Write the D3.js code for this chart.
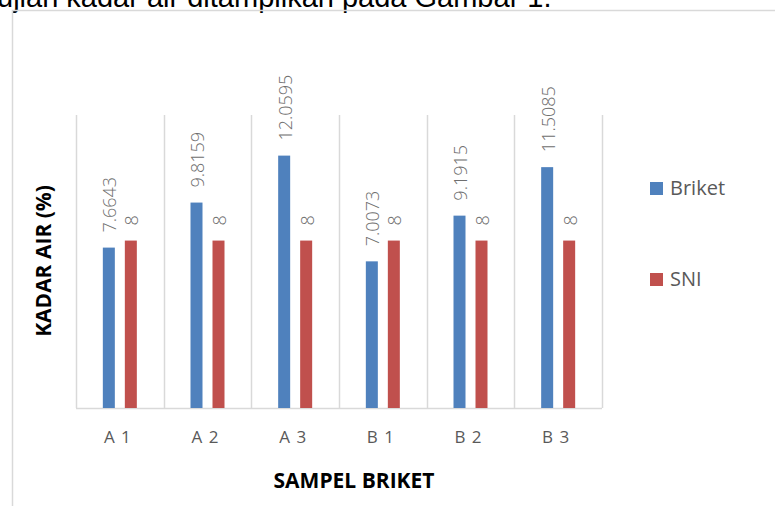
<!DOCTYPE html>
<html>
<head>
<meta charset="utf-8">
<script src="https://cdn.jsdelivr.net/npm/d3@7"></script>
<style>
  body { margin: 0; background: #fff; }
  svg { display: block; }
</style>
</head>
<body>
<div id="chart"></div>
<script>
const width = 775
const height = 506

// data
const categories = ['A 1', 'A 2', 'A 3', 'B 1', 'B 2', 'B 3']
const seriesNames = ['Briket', 'SNI']
const briket = [7.6643, 9.8159, 12.0595, 7.0073, 9.1915, 11.5085]
const sni = [8, 8, 8, 8, 8, 8]
const briketLabels = ['7.6643', '9.8159', '12.0595', '7.0073', '9.1915', '11.5085']
const sniLabels = ['8', '8', '8', '8', '8', '8']
const yDomain = [0, 14]

const colors = { Briket: '#4f81bd', SNI: '#c0504d' }
const plot = { left: 76, right: 602, top: 115, bottom: 408 }

let svg = d3.select('#chart').append('svg').attr('width', width).attr('height', height)

// document text cut off at the top
svg.append('text')
    .attr('x', -3).attr('y', 7)
    .attr('font-family', 'Liberation Sans, Arial, sans-serif')
    .attr('font-size', 29)
    .attr('fill', '#000')
    .text('ujian kadar air ditampilkan pada Gambar 1.')

// chart border
svg.append('rect')
    .attr('x', 12.5).attr('y', 10.5)
    .attr('width', 800).attr('height', 600)
    .attr('fill', 'none').attr('stroke', '#d9d9d9').attr('stroke-width', 1.5)

let x = d3.scaleBand().domain(categories).range([plot.left, plot.right]).padding(0)
let x1 = d3.scaleBand().domain(seriesNames).range([0, 34]).paddingInner(0.4545)
let y = d3.scaleLinear().domain(yDomain).range([plot.bottom, plot.top])
const groupOffset = (x.bandwidth() - 34) / 2

let gridGroup = svg.append('g').attr('id', 'gridGroup')
let bounds = categories.map(c => x(c)).concat([x.range()[1]])
gridGroup.selectAll('line').data(bounds).enter().append('line')
    .attr('x1', d => Math.round(d) + 0.5).attr('x2', d => Math.round(d) + 0.5)
    .attr('y1', plot.top).attr('y2', plot.bottom)
    .attr('stroke', '#d9d9d9').attr('stroke-width', 1.5)
gridGroup.append('line')
    .attr('x1', plot.left).attr('x2', plot.right)
    .attr('y1', plot.bottom + 0.5).attr('y2', plot.bottom + 0.5)
    .attr('stroke', '#d9d9d9').attr('stroke-width', 1.5)

let rows = categories.map((c, i) => ({
    cat: c,
    values: [
        { key: 'Briket', value: briket[i], label: briketLabels[i] },
        { key: 'SNI', value: sni[i], label: sniLabels[i] }
    ]
}))

let elementGroup = svg.append('g').attr('id', 'elementGroup')
let groups = elementGroup.selectAll('g.barItem').data(rows).enter().append('g')
    .attr('class', 'barItem')
    .attr('transform', d => `translate(${x(d.cat) + groupOffset}, 0)`)

groups.selectAll('rect').data(d => d.values).enter().append('rect')
    .attr('x', d => x1(d.key))
    .attr('y', d => y(d.value))
    .attr('width', x1.bandwidth())
    .attr('height', d => y(0) - y(d.value))
    .attr('fill', d => colors[d.key])

groups.selectAll('text').data(d => d.values).enter().append('text')
    .attr('transform', d => `translate(${x1(d.key) + x1.bandwidth() / 2}, ${y(d.value) - 15}) rotate(-90)`)
    .attr('dy', 7.5)
    .attr('font-family', 'Open Sans, sans-serif')
    .attr('font-weight', 300)
    .attr('font-size', 18)
    .attr('fill', '#6e6e6e')
    .text(d => d.label)

// x axis labels
let xAxis = d3.axisBottom(x).tickSize(0).tickPadding(0)
let xAxisGroup = svg.append('g').attr('id', 'xAxisGroup')
    .attr('transform', `translate(-2, 443)`)
    .call(xAxis)
xAxisGroup.select('.domain').remove()
xAxisGroup.selectAll('text')
    .attr('dy', 0).attr('y', 0)
    .attr('font-family', 'Open Sans, sans-serif')
    .attr('font-size', 17)
    .attr('letter-spacing', 1)
    .attr('fill', '#595959')

// titles
svg.append('text')
    .attr('transform', `translate(51, 261) rotate(-90)`)
    .attr('text-anchor', 'middle')
    .attr('font-family', 'Open Sans, sans-serif')
    .attr('font-weight', 700)
    .attr('font-size', 21)
    .attr('fill', '#000')
    .text('KADAR AIR (%)')

svg.append('text')
    .attr('x', 354).attr('y', 488)
    .attr('text-anchor', 'middle')
    .attr('font-family', 'Open Sans, sans-serif')
    .attr('font-weight', 700)
    .attr('font-size', 21)
    .attr('fill', '#000')
    .text('SAMPEL BRIKET')

// legend
let legend = svg.append('g').attr('id', 'legend')
let legendY = d3.scalePoint().domain(seriesNames).range([182, 273])
let items = legend.selectAll('g').data(seriesNames).enter().append('g')
    .attr('transform', d => `translate(650, ${legendY(d)})`)
items.append('rect').attr('width', 13).attr('height', 13).attr('fill', d => colors[d])
items.append('text')
    .attr('x', 20).attr('y', 13)
    .attr('font-family', 'Open Sans, sans-serif')
    .attr('font-size', 20)
    .attr('fill', '#595959')
    .text(d => d)
</script>
</body>
</html>
